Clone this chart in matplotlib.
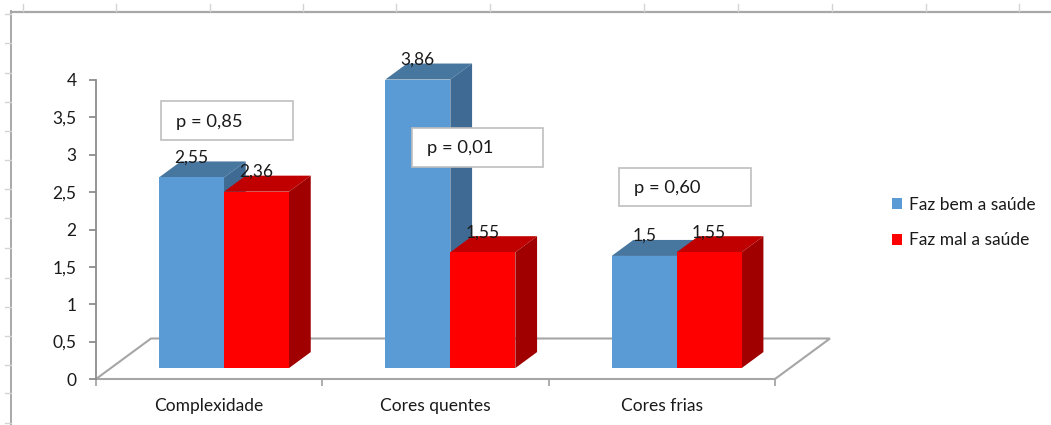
import matplotlib
matplotlib.use("Agg")
import matplotlib.pyplot as plt
from matplotlib.patches import Polygon, Rectangle, Patch
from matplotlib.lines import Line2D

# ---- data ----
categories = ["Complexidade", "Cores quentes", "Cores frias"]
series_names = ["Faz bem a saúde", "Faz mal a saúde"]
faz_bem = [2.55, 3.86, 1.5]
faz_mal = [2.36, 1.55, 1.55]
bem_labels = ["2,55", "3,86", "1,5"]
mal_labels = ["2,36", "1,55", "1,55"]
p_values = ["p = 0,85", "p = 0,01", "p = 0,60"]
y_ticks = [0, 0.5, 1, 1.5, 2, 2.5, 3, 3.5, 4]
y_tick_labels = ["0", "0,5", "1", "1,5", "2", "2,5", "3", "3,5", "4"]

# ---- styling ----
W, H = 1051, 425
plt.rcParams['font.family'] = ['Lato', 'DejaVu Sans']
FS = 12.5
FS_P = 13.2
GREY = "#8C8C8C"
FLOOR = "#A6A6A6"
TXT = "#1A1A1A"
blue = {"front": "#5B9BD5", "top": "#47769F", "side": "#3E6A93"}
red = {"front": "#FF0000", "top": "#C00000", "side": "#A00000"}

fig = plt.figure(figsize=(W / 100, H / 100), dpi=100)


def fx(px):
    return px / W


def fy(py):
    return 1 - py / H


# ---- sheet frame around the chart object ----
fig.add_artist(Line2D([fx(11), fx(W)], [fy(11.5), fy(11.5)], color="#A8A8A8", lw=1.6))
fig.add_artist(Line2D([fx(11), fx(11)], [fy(11), fy(H)], color="#A8A8A8", lw=1.4))
for cx in [23, 116, 210, 303, 396, 490, 644, 738, 832, 926, 1019]:
    fig.add_artist(Line2D([fx(cx), fx(cx)], [fy(4), fy(10.5)], color="#D4D4D4", lw=1))
for ry in [14, 43, 73, 102, 131, 160, 189, 218, 248, 278, 307, 336, 365, 393, 423]:
    fig.add_artist(Line2D([fx(5), fx(10.5)], [fy(ry), fy(ry)], color="#D4D4D4", lw=1))

# ---- plot area ----
ax = fig.add_axes([fx(96), fy(379), (775 - 96) / W, (379 - 80) / H])
ax.set_xlim(-0.5, 2.5)
ax.set_ylim(0, 4)
ax.patch.set_alpha(0)

sx = (775 - 96) / 3.0   # pixels per category
sy = (379 - 80) / 4.0   # pixels per value unit
dx, dy = 55 / sx, 40.5 / sy          # full floor depth, data units
f0, f1 = 0.27, 0.665                 # bar depth span
bw = 65 / sx                         # bar width
ddx, ddy = (f1 - f0) * dx, (f1 - f0) * dy

# floor
floor = Polygon([(-0.5, 0), (2.5, 0), (2.5 + dx, dy), (-0.5 + dx, dy)],
                closed=True, facecolor="white", edgecolor=FLOOR, lw=1.5,
                clip_on=False, zorder=1)
ax.add_patch(floor)

xs = [i + f0 * dx for i in range(len(categories))]
base = f0 * dy


def draw_series(centers, values, labels, col, z):
    bars = ax.bar(centers, values, width=bw, bottom=base, color=col["front"],
                  edgecolor="none", zorder=z + 1, clip_on=False)
    for rect, v, lab in zip(bars, values, labels):
        x0 = rect.get_x()
        x1 = x0 + rect.get_width()
        top = base + v
        ax.add_patch(Polygon([(x0, top), (x1, top), (x1 + ddx, top + ddy), (x0 + ddx, top + ddy)],
                             closed=True, facecolor=col["top"], edgecolor="none",
                             clip_on=False, zorder=z))
        ax.add_patch(Polygon([(x1, base), (x1, top), (x1 + ddx, top + ddy), (x1 + ddx, base + ddy)],
                             closed=True, facecolor=col["side"], edgecolor="none",
                             clip_on=False, zorder=z))
        # value label sits just above the back edge of the top face
        ax.text((x0 + x1) / 2, top + ddy + 4 / sy, lab, ha="center", va="center",
                fontsize=FS, color=TXT, zorder=10, clip_on=False)


draw_series([x - bw / 2 for x in xs], faz_bem, bem_labels, blue, 2)
draw_series([x + bw / 2 for x in xs], faz_mal, mal_labels, red, 5)

# axes styling
for s in ["top", "right", "bottom"]:
    ax.spines[s].set_visible(False)
ax.spines["left"].set_color(GREY)
ax.spines["left"].set_linewidth(1.3)
ax.set_yticks(y_ticks)
ax.set_yticklabels(y_tick_labels)
ax.tick_params(axis="y", length=5, width=1.3, color=GREY, pad=9, labelsize=FS,
               labelcolor=TXT)
ax.set_xticks([-0.5, 0.5, 1.5, 2.5])
ax.set_xticklabels([])
ax.tick_params(axis="x", which="major", length=5, width=1.3, color=FLOOR)
ax.set_xticks([0, 1, 2], minor=True)
ax.set_xticklabels(categories, minor=True)
ax.tick_params(axis="x", which="minor", length=0, pad=14, labelsize=FS,
               labelcolor=TXT)

# p-value boxes
p_boxes = [(161, 101, 293, 140), (412, 128, 543, 167), (619, 168, 751, 206)]
for txt, (l, t, r, b) in zip(p_values, p_boxes):
    fig.add_artist(Rectangle((fx(l), fy(b)), fx(r) - fx(l), fy(t) - fy(b),
                             transform=fig.transFigure, facecolor="white",
                             edgecolor="#BFBFBF", lw=1.2, zorder=20))
    fig.text(fx(l + 15), fy((t + b) / 2 + 1), txt, ha="left", va="center",
             fontsize=FS_P, color=TXT, zorder=21)

# legend
handles = [Patch(facecolor=blue["front"], edgecolor="none"),
           Patch(facecolor=red["front"], edgecolor="none")]
fig.legend(handles, series_names, loc="center left",
           bbox_to_anchor=(fx(892), fy(222.5)), frameon=False, fontsize=FS,
           handlelength=0.58, handleheight=0.58, handletextpad=0.42,
           labelspacing=1.15, borderpad=0, borderaxespad=0, labelcolor=TXT)

fig.savefig("out.png", dpi=100)
